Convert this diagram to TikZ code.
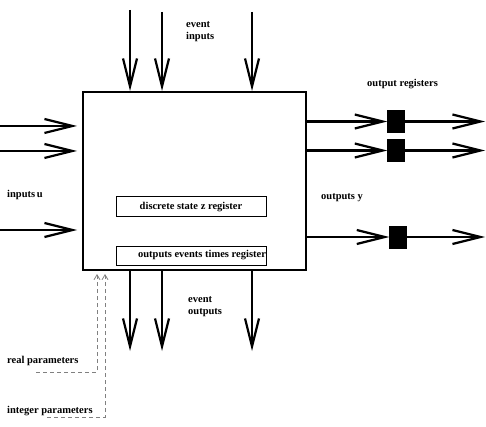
\documentclass[tikz,border=0pt]{standalone}
\usepackage{fontspec}
\setmainfont{Liberation Serif}
\usetikzlibrary{arrows.meta}
\begin{document}
\begin{tikzpicture}[x=1pt,y=-1pt,
  lbl/.style={font=\bfseries\fontsize{10.5}{12}\selectfont, inner sep=0pt, align=left},
  big/.style={line width=2.2pt, -{Straight Barb[length=28pt,width=14pt,line width=2.2pt]}},
  reg/.style={fill=black, draw=black, minimum width=17pt, minimum height=22pt, inner sep=0pt},
  inbox/.style={draw, line width=1pt, minimum width=150pt, minimum height=20pt, inner sep=0pt},
  par/.style={draw=gray, line width=0.8pt, dash pattern=on 4pt off 3pt, -{Straight Barb[length=5pt,width=6pt,line width=0.8pt]}}]
\useasboundingbox (0,0) rectangle (486,427);
% main block
\node[draw, line width=2pt, minimum width=223pt, minimum height=178pt, inner sep=0pt] (main) at (194.5,181) {};
\node[inbox, font=\bfseries\fontsize{10.5}{12}\selectfont] (dz) at (191,207) {discrete state z register};
\node[inbox, minimum height=19pt] (ot) at (191,255.5) {};
\node[lbl] (otl) at (202,255) {outputs events times register};
% event inputs
\coordinate (e1) at (130,10);
\coordinate (e2) at (162,12);
\coordinate (e3) at (252,12);
\foreach \c in {e1,e2,e3} \draw[big] (\c) -- (\c |- main.north);
\node[lbl, anchor=north west] (eil) at (186,21.5) {event\\inputs};
% inputs u
\coordinate (i1) at (0,126);
\coordinate (i2) at (0,151);
\coordinate (i3) at (0,230);
\foreach \c in {i1,i2,i3} \draw[big, shorten >=5pt] (\c) -- (\c -| main.west);
\node[lbl, anchor=west] (iul) at (7,195) {inputs\,u};
% outputs
\node[reg] (r1) at (396,121.5) {};
\node[reg] (r2) at (396,150.5) {};
\node[reg] (r3) at (398,237) {};
\coordinate (q1) at (485,121.5);
\coordinate (q2) at (485,150.5);
\coordinate (q3) at (485,237);
\draw[big] (r1 -| main.east) -- (r1.west);
\draw[big] (r2 -| main.east) -- (r2.west);
\draw[big] (r3 -| main.east) -- (r3.west);
\draw[big] (r1.east) -- (q1);
\draw[big] (r2.east) -- (q2);
\draw[big] (r3.east) -- (q3);
\node[lbl, anchor=west] (orl) at (367,84) {output registers};
\node[lbl, anchor=west] (oyl) at (321,198) {outputs y};
% event outputs
\coordinate (o1) at (130,351);
\coordinate (o2) at (162,351);
\coordinate (o3) at (252,351);
\foreach \c in {o1,o2,o3} \draw[big] (\c |- main.south) -- (\c);
\node[lbl, anchor=north west] (eol) at (188,296.5) {event\\outputs};
% parameters
\coordinate (rp) at (36,372);
\coordinate (rpa) at (97,274);
\coordinate (ip) at (47,417);
\coordinate (ipa) at (105,274);
\draw[par] (rp) -| (rpa);
\draw[par] (ip) -| (ipa);
\node[lbl, anchor=west] (rpl) at (7,361) {real parameters};
\node[lbl, anchor=west] (ipl) at (7,411) {integer parameters};
\end{tikzpicture}
\end{document}
